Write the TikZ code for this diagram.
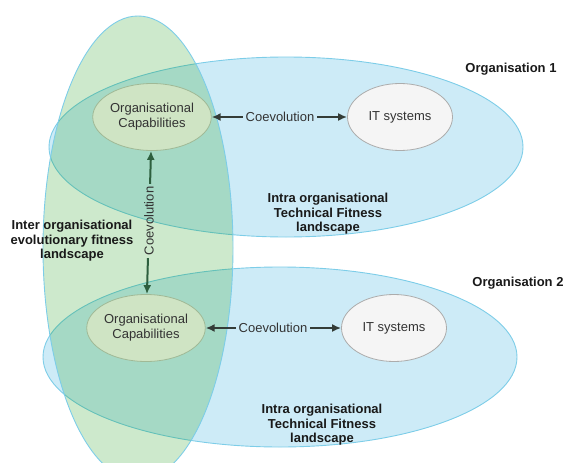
\documentclass[tikz,border=0pt]{standalone}
\usepackage{fontspec}
\setmainfont{Liberation Sans}
\usetikzlibrary{shapes.geometric,arrows.meta}
\definecolor{landblue}{RGB}{205,235,247}
\definecolor{landedge}{RGB}{125,205,232}
\definecolor{landgreen}{RGB}{5,145,0}
\definecolor{capfill}{RGB}{207,228,196}
\definecolor{capedge}{RGB}{160,185,150}
\definecolor{itfill}{RGB}{245,245,245}
\definecolor{itedge}{RGB}{172,172,172}
\definecolor{arrowgray}{RGB}{52,60,55}
\definecolor{arrowgreen}{RGB}{45,95,62}

\begin{document}
\begin{tikzpicture}[
    x=1pt, y=-1pt,
    landscape/.style={draw=landedge, line width=0.9pt, fill=#1},
    capability/.style={ellipse, draw=capedge, fill=capfill, line width=0.8pt, minimum width=105pt, minimum height=67pt, inner sep=0pt, align=center, font=\fontsize{13}{15}\selectfont, text=black!80},
    itsys/.style={ellipse, draw=itedge, fill=itfill, line width=0.8pt, minimum width=105pt, minimum height=67pt, inner sep=0pt, font=\fontsize{13}{15}\selectfont, text=black!80},
    title/.style={font=\fontsize{13}{14.5}\selectfont\bfseries, align=center, text=black!90},
    coev/.style={font=\fontsize{13}{15}\selectfont, text=black!80, inner sep=2.5pt},
    arrow/.style={-{Latex[length=9pt,width=8pt]}, line width=2pt, draw=#1},
    arrow/.default=arrowgray
]
\useasboundingbox (0,0) rectangle (565,463);

% fitness landscapes
\draw[landscape=landblue] (286,147) ellipse [x radius=237, y radius=90];
\draw[landscape=landblue] (280,357) ellipse [x radius=237, y radius=90];
\draw[landscape=landgreen, fill opacity=0.2] (138,248) ellipse [x radius=95, y radius=232];

% organisation 1
\node[capability] (cap1) at (152,117) {Organisational\\Capabilities};
\node[itsys] (it1) at (400,117) {IT systems};
\node[coev] (coev1) at (280,117) {Coevolution};
\draw[arrow] (coev1) -- (cap1);
\draw[arrow] (coev1) -- (it1);

% organisation 2
\node[capability] (cap2) at (146,328) {Organisational\\Capabilities};
\node[itsys] (it2) at (394,328) {IT systems};
\node[coev] (coev2) at (273,328) {Coevolution};
\draw[arrow] (coev2) -- (cap2);
\draw[arrow] (coev2) -- (it2);

% between organisations
\node[coev, rotate=90] (coev3) at (149,221) {Coevolution};
\draw[arrow=arrowgreen] (coev3) -- (cap1);
\draw[arrow=arrowgreen] (coev3) -- (cap2);

% labels
\node[title] (org1) at (511,69) {Organisation 1};
\node[title] (org2) at (518,283) {Organisation 2};
\node[title] (inter) at (72,241) {Inter organisational\\evolutionary fitness\\landscape};
\node[title] (intra1) at (328,214) {Intra organisational\\Technical Fitness\\landscape};
\node[title] (intra2) at (322,425) {Intra organisational\\Technical Fitness\\landscape};
\end{tikzpicture}
\end{document}
